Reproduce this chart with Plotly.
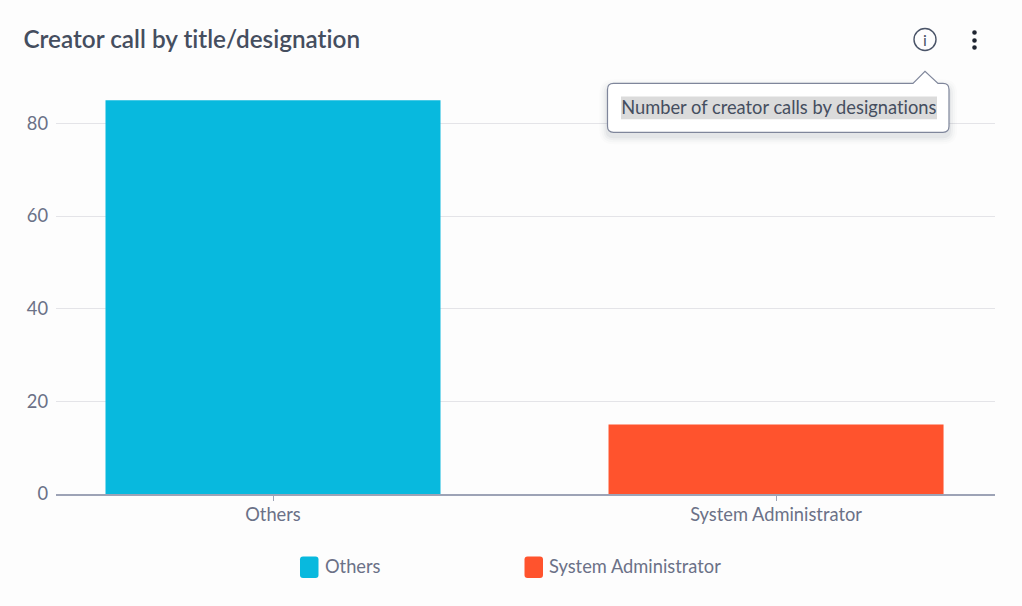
import plotly.graph_objects as go

# Chart data
categories = ["Others", "System Administrator"]
calls = [85, 15]
bar_colors = ["#08B9DE", "#FF532D"]
y_ticks = [0, 20, 40, 60, 80]
chart_title = "Creator call by title/designation"
tooltip_text = "Number of creator calls by designations"

WIDTH, HEIGHT = 1022, 606
LEFT, RIGHT, TOP, BOTTOM = 56, 995, 76.6, 494
FONT = "Lato, 'Liberation Sans', sans-serif"
TEXT = "#6B7187"
DARK = "#454E5F"
LABEL_SIZE = 18.3


def px(x):
    return (x - LEFT) / (RIGHT - LEFT)


def py(y):
    return (BOTTOM - y) / (BOTTOM - TOP)


def pt(x, y):
    return f"{px(x):.5f},{py(y):.5f}"


def rounded_path(x0, y0, x1, y1, r, notch=None):
    # Rounded rectangle in pixel terms, with an optional arrow on the top edge
    top = f"M{pt(x0 + r, y0)} "
    if notch:
        a, tip_x, tip_y, b = notch
        top += f"L{pt(a, y0)} L{pt(tip_x, tip_y)} L{pt(b, y0)} "
    return (
        top
        + f"L{pt(x1 - r, y0)} Q{pt(x1, y0)} {pt(x1, y0 + r)} "
        + f"L{pt(x1, y1 - r)} Q{pt(x1, y1)} {pt(x1 - r, y1)} "
        + f"L{pt(x0 + r, y1)} Q{pt(x0, y1)} {pt(x0, y1 - r)} "
        + f"L{pt(x0, y0 + r)} Q{pt(x0, y0)} {pt(x0 + r, y0)} Z"
    )


def circle(cx, cy, r, **kw):
    return dict(type="circle", xref="paper", yref="paper",
                x0=px(cx - r), x1=px(cx + r), y0=py(cy + r), y1=py(cy - r), **kw)


fig = go.Figure()
for name, value, color in zip(categories, calls, bar_colors):
    fig.add_trace(go.Bar(x=[name], y=[value], name=name, width=0.666,
                         marker=dict(color=color, line_width=0), showlegend=False))

shapes = []
annotations = []

# Legend swatches and labels
for name, color, sw_x, label_x in zip(categories, bar_colors, [300, 524.5], [323, 547]):
    shapes.append(dict(type="path", xref="paper", yref="paper", layer="above",
                       path=rounded_path(sw_x, 556.5, sw_x + 18.5, 578, 3),
                       fillcolor=color, line_width=0))
    annotations.append(dict(text=name, xref="paper", yref="paper", x=px(label_x), y=py(566.5),
                            xanchor="left", yanchor="middle", showarrow=False,
                            font=dict(family=FONT, size=LABEL_SIZE, color=TEXT)))

# Tooltip with a soft shadow
notch = (913, 925, 71, 938)
for grow, alpha in [(8, 0.015), (6, 0.025), (4, 0.035), (2, 0.05)]:
    shapes.append(dict(type="path", xref="paper", yref="paper", layer="above",
                       path=rounded_path(607.5 - grow, 83 + 4 - grow, 949 + grow, 132 + 4 + grow, 6 + grow),
                       fillcolor=f"rgba(60,70,90,{alpha})", line_width=0))
shapes.append(dict(type="path", xref="paper", yref="paper", layer="above",
                   path=rounded_path(607.5, 83, 949, 132, 6, notch),
                   fillcolor="#FFFFFF", line=dict(color="#7F869B", width=1.2)))
shapes.append(dict(type="rect", xref="paper", yref="paper", layer="above",
                   x0=px(621), x1=px(937), y0=py(119), y1=py(96),
                   fillcolor="#DBDBDB", line_width=0))
annotations.append(dict(text=tooltip_text, xref="paper", yref="paper", x=px(619), y=py(106.5),
                        xanchor="left", yanchor="middle", showarrow=False,
                        font=dict(family=FONT, size=LABEL_SIZE, color=DARK)))

# Info icon and overflow menu
shapes.append(circle(925, 39, 11, layer="above", line=dict(color="#4A5468", width=1.4),
                     fillcolor="rgba(0,0,0,0)"))
annotations.append(dict(text="i", xref="paper", yref="paper", x=px(925), y=py(39),
                        xanchor="center", yanchor="middle", showarrow=False,
                        font=dict(family=FONT, size=16, color="#4A5468")))
for cy in (32, 40, 47):
    shapes.append(circle(974.5, cy, 2.3, layer="above", fillcolor="#1E2430", line_width=0))

# Title
annotations.append(dict(text=chart_title, xref="paper", yref="paper", x=px(21), y=py(38),
                        xanchor="left", yanchor="middle", showarrow=False,
                        font=dict(family=FONT, size=24.3, color=DARK, weight=600)))

fig.update_layout(
    width=WIDTH, height=HEIGHT, autosize=False,
    margin=dict(l=LEFT, r=WIDTH - RIGHT, t=TOP, b=HEIGHT - BOTTOM, pad=0),
    paper_bgcolor="#FDFDFD", plot_bgcolor="#FDFDFD",
    barmode="overlay", showlegend=False, shapes=shapes, annotations=annotations,
    font=dict(family=FONT, size=LABEL_SIZE, color=TEXT),
    xaxis=dict(type="category", categoryorder="array", categoryarray=categories,
               range=[-0.4314, 1.4353], showgrid=False, showline=True, linecolor="#9DA3B6", linewidth=1.6,
               ticks="outside", ticklen=5, tickcolor="#9DA3B6", tickwidth=1, ticklabelstandoff=-2,
               tickfont=dict(family=FONT, size=LABEL_SIZE, color=TEXT), zeroline=False),
    yaxis=dict(range=[0, 90], tickvals=y_ticks, showgrid=True, gridcolor="#E4E4E8", gridwidth=1.4,
               showline=False, ticks="", zeroline=False, ticklabelstandoff=7,
               tickfont=dict(family=FONT, size=LABEL_SIZE, color=TEXT)),
)

# Plain letterforms: switch off the font's ligatures
no_ligatures = (
    "var s=document.createElement('style');"
    "s.textContent='svg text{font-variant-ligatures:none !important}';"
    "document.head.appendChild(s);"
)
fig.write_html("out.html", config=dict(displayModeBar=False), post_script=no_ligatures)
